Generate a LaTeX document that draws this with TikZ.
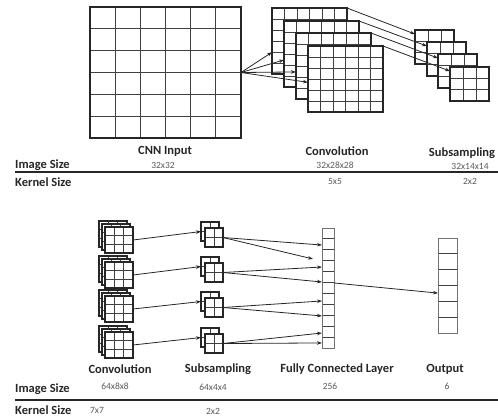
\documentclass[tikz,border=0pt]{standalone}
\usepackage{fontspec}
\setmainfont{Carlito}
\usetikzlibrary{calc,arrows.meta}
\newcommand\mybox[8][]{\node[mapbox,#1,cells={#7}{#8},minimum width=#5pt,minimum height=#6pt] (#2) at (#3,#4) {};}
\begin{document}
\begin{tikzpicture}[x=1pt,y=-1pt,
  cellline/.style={line width=0.9pt, draw=black!75},
  cells/.style 2 args={path picture={
    \foreach \k in {1,...,#1}{\draw[cellline] ($(path picture bounding box.north west)!\k/#1!(path picture bounding box.north east)$) -- ($(path picture bounding box.south west)!\k/#1!(path picture bounding box.south east)$);}
    \foreach \k in {1,...,#2}{\draw[cellline] ($(path picture bounding box.north west)!\k/#2!(path picture bounding box.south west)$) -- ($(path picture bounding box.north east)!\k/#2!(path picture bounding box.south east)$);}
  }},
  mapbox/.style={draw=black!85, line width=1.2pt, fill=white, inner sep=0pt, outer sep=0pt, anchor=north west},
  graybox/.style={draw=black!55, line width=1pt},
  arr/.style={-{Stealth[length=5pt,width=3.5pt]}, line width=0.8pt, draw=black!85},
  lbl/.style={font=\bfseries\fontsize{12.5}{14}\selectfont, text=black!85, inner sep=0pt},
  num/.style={font=\fontsize{9.5}{10}\selectfont, text=black!65, inner sep=0pt},
  rulel/.style={line width=1.8pt, draw=black!85}
]
\useasboundingbox (0,0) rectangle (498,416);
\clip (0,0) rectangle (498,416);

% ---- top section ----
\mybox[line width=1.6pt]{in}{90}{7}{151}{131}{6}{6}
\mybox{c1}{272}{8}{75}{66}{6}{6}
\mybox{c2}{284}{21}{75}{66}{6}{6}
\mybox{c3}{296}{33}{75}{66}{6}{6}
\mybox{c4}{308}{46}{75}{66}{6}{6}
\mybox{s1}{415}{30}{39}{34}{3}{3}
\mybox{s2}{427}{42}{39}{34}{3}{3}
\mybox{s3}{438}{54}{39}{34}{3}{3}
\mybox{s4}{450}{67}{39}{34}{3}{3}

\draw[arr] (in.east) -- ($(c1.north west)!0.67!(c1.south west)$);
\draw[arr] (in.east) -- ($(c2.north west)!0.59!(c2.south west)$);
\draw[arr] (in.east) -- ($(c3.north west)!0.59!(c3.south west)$);
\draw[arr] (in.east) -- ($(c4.north west)!0.55!(c4.south west)$);

\draw[arr] (c1.north east) -- ($(s1.north west)!0.12!(s1.south west)$);
\draw[arr] (c2.north east) -- ($(s2.north west)!0.12!(s2.south west)$);
\draw[arr] (c3.north east) -- ($(s3.north west)!0.12!(s3.south west)$);
\draw[arr] (c4.north east) -- ($(s4.north west)!0.12!(s4.south west)$);

\node[lbl] (t1) at (165,151) {CNN Input};
\node[lbl] (t2) at (337,151) {Convolution};
\node[lbl] (t3) at (462,153) {Subsampling};
\node[lbl,anchor=west] (t4) at (15,165) {Image Size};
\node[num] (n1) at (163,165) {32x32};
\node[num] (n2) at (335,165) {32x28x28};
\node[num] (n3) at (470,166) {32x14x14};
\draw[rulel] (15,172) -- (498,172);
\node[lbl,anchor=west] (t5) at (15,182) {Kernel Size};
\node[num] (n4) at (335,181) {5x5};
\node[num] (n5) at (470,181) {2x2};

% ---- bottom section ----
\mybox{ga1}{99}{221}{28}{26}{3}{3}
\mybox{gb1}{102}{224}{28}{26}{3}{3}
\mybox{g1}{105}{227}{28}{26}{3}{3}
\mybox{ga2}{99}{256}{28}{26}{3}{3}
\mybox{gb2}{102}{259}{28}{26}{3}{3}
\mybox{g2}{105}{262}{28}{26}{3}{3}
\mybox{ga3}{99}{290}{28}{26}{3}{3}
\mybox{gb3}{102}{293}{28}{26}{3}{3}
\mybox{g3}{105}{296}{28}{26}{3}{3}
\mybox{ga4}{99}{326}{28}{26}{3}{3}
\mybox{gb4}{102}{329}{28}{26}{3}{3}
\mybox{g4}{105}{332}{28}{26}{3}{3}

\mybox{pb1}{201}{222}{18}{19}{2}{2}
\mybox{p1}{205}{228}{18}{19}{2}{2}
\mybox{pb2}{201}{257}{18}{19}{2}{2}
\mybox{p2}{205}{263}{18}{19}{2}{2}
\mybox{pb3}{201}{292}{18}{19}{2}{2}
\mybox{p3}{205}{298}{18}{19}{2}{2}
\mybox{pb4}{201}{328}{18}{19}{2}{2}
\mybox{p4}{205}{334}{18}{19}{2}{2}

\mybox[graybox]{fc}{322}{228}{12}{120}{1}{11}
\mybox[graybox]{out}{438}{238}{19}{95}{1}{6}

\draw[arr] (g1.east) -- (pb1.west);
\draw[arr] (g2.east) -- (pb2.west);
\draw[arr] (g3.east) -- (pb3.west);
\draw[arr] (g4.east) -- (pb4.west);

\draw[arr] (p1.east) -- ($(fc.north west)!0.142!(fc.south west)$);
\draw[arr] (p1.east) -- ($(fc.north west)!0.258!(fc.south west)+(-9,0)$);
\draw[arr] (p2.east) -- ($(fc.north west)!0.325!(fc.south west)$);
\draw[arr] (p2.east) -- ($(fc.north west)!0.45!(fc.south west)$);
\draw[arr] (p3.east) -- ($(fc.north west)!0.608!(fc.south west)$);
\draw[arr] (p3.east) -- ($(fc.north west)!0.733!(fc.south west)$);
\draw[arr] (p4.east) -- ($(fc.north west)!0.875!(fc.south west)$);
\draw[arr] (p4.east) -- ($(fc.north west)!0.958!(fc.south west)$);

\draw[arr] ($(fc.north east)!0.458!(fc.south east)$) -- ($(out.north west)!0.58!(out.south west)$);

\node[lbl] (b1) at (120,369) {Convolution};
\node[lbl] (b2) at (218,369) {Subsampling};
\node[lbl] (b3) at (337,369) {Fully Connected Layer};
\node[lbl] (b4) at (445,369) {Output};
\node[lbl,anchor=west] (b5) at (15,389) {Image Size};
\node[num] (m1) at (115,386) {64x8x8};
\node[num] (m2) at (213,387) {64x4x4};
\node[num] (m3) at (330,386) {256};
\node[num] (m4) at (447,386) {6};
\draw[rulel] (15,400) -- (498,400);
\node[lbl,anchor=west] (b6) at (15,410) {Kernel Size};
\node[num] (m5) at (97,410) {7x7};
\node[num] (m6) at (213,411) {2x2};
\end{tikzpicture}
\end{document}
